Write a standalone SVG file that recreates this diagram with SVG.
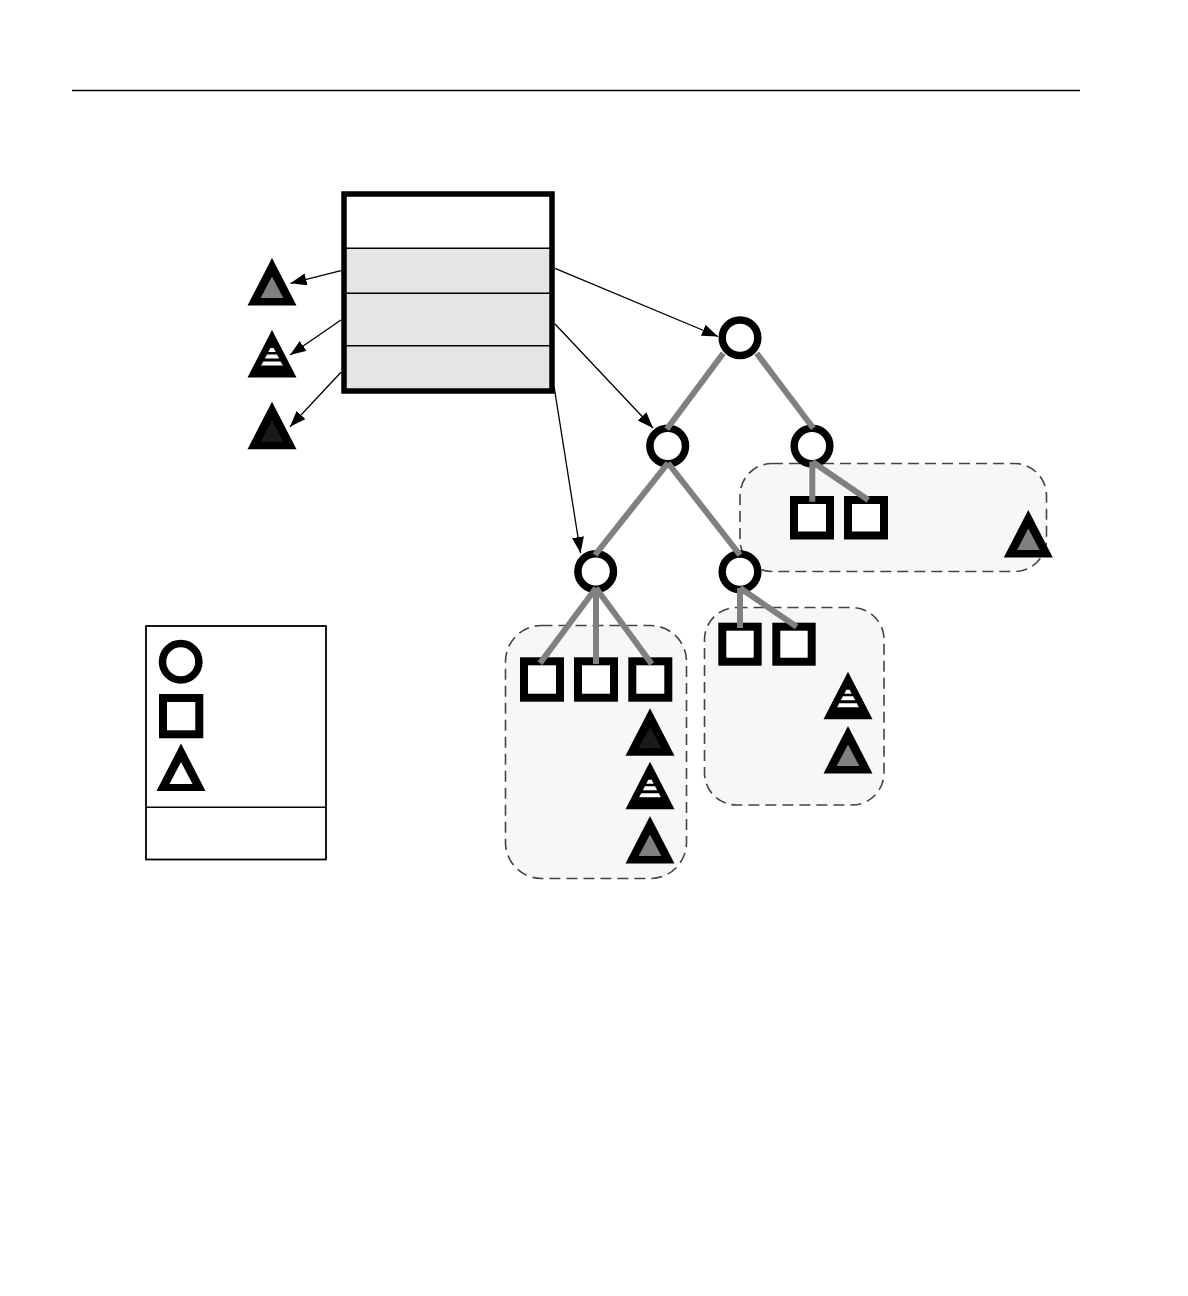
<svg xmlns="http://www.w3.org/2000/svg" xmlns:xlink="http://www.w3.org/1999/xlink" width="1188" height="1296" viewBox="0 0 1188 1296">
<style>
.ptr{stroke:#000;stroke-width:1.3;fill:none}
.edge{stroke:#808080;stroke-width:6;fill:none}
.node{fill:#fff;stroke:#000;stroke-width:7.5}
.leaf{fill:#fff;stroke:#000;stroke-width:8}
.grp{fill:#f7f7f7;stroke:#444;stroke-width:1.6;stroke-dasharray:11 6}
</style>
<defs>
<marker id="ah" markerUnits="userSpaceOnUse" markerWidth="18" markerHeight="14" refX="16" refY="6" orient="auto">
<path d="M0,0 L16,6 L0,12 z" fill="#000"/>
</marker>
<g id="triGray"><polygon points="0,0 24.5,47.5 -24.5,47.5" fill="#000"/><polygon points="0,18.5 11.3,40 -11.3,40" fill="#808080"/></g>
<g id="triDark"><polygon points="0,0 24.5,47.5 -24.5,47.5" fill="#000"/><polygon points="0,18.5 11.3,40 -11.3,40" fill="#1a1a1a"/></g>
<g id="triWhite"><polygon points="0,0 24.5,47.5 -24.5,47.5" fill="#000"/><polygon points="0,18.5 11.5,40.5 -11.5,40.5" fill="#fff"/></g>
<g id="triStripe"><polygon points="0,0 24.5,47.5 -24.5,47.5" fill="#000"/>
<polygon points="-1.6,18 1.6,18 3.7,22 -3.7,22" fill="#fff"/>
<polygon points="-5,24.5 5,24.5 7.2,28.5 -7.2,28.5" fill="#fff"/>
<polygon points="-8.7,31.5 8.7,31.5 10.9,35.5 -10.9,35.5" fill="#fff"/></g>
</defs>
<rect width="1188" height="1296" fill="#fff"/>
<line x1="72" y1="90.5" x2="1080" y2="90.5" stroke="#000" stroke-width="1.3"/>

<g id="groups">
<rect id="group-right" class="grp" x="740" y="463.5" width="306.5" height="108" rx="32"/>
<rect id="group-left" class="grp" x="505.5" y="625.5" width="181" height="253" rx="36"/>
<rect id="group-mid" class="grp" x="704.5" y="607.5" width="179.5" height="197.5" rx="32"/>
</g>

<g id="table">
<rect x="344" y="194" width="208" height="197" fill="#e5e5e5"/>
<rect x="344" y="194" width="208" height="54" fill="#fff"/>
<line x1="344" y1="248.3" x2="552" y2="248.3" stroke="#000" stroke-width="1.5"/>
<line x1="344" y1="293.3" x2="552" y2="293.3" stroke="#000" stroke-width="1.5"/>
<line x1="344" y1="345.7" x2="552" y2="345.7" stroke="#000" stroke-width="1.5"/>
<rect x="344" y="194" width="208" height="197" fill="none" stroke="#000" stroke-width="5.5"/>
</g>

<g id="connectors">
<line class="ptr" x1="341" y1="270.7" x2="290.5" y2="283.3" marker-end="url(#ah)"/>
<line class="ptr" x1="341" y1="320" x2="290" y2="355" marker-end="url(#ah)"/>
<line class="ptr" x1="341" y1="372.3" x2="290" y2="426.7" marker-end="url(#ah)"/>
<line class="ptr" x1="555" y1="268.3" x2="718" y2="336.5" marker-end="url(#ah)"/>
<line class="ptr" x1="555" y1="324" x2="653" y2="428" marker-end="url(#ah)"/>
<line class="ptr" x1="554" y1="386" x2="580.5" y2="553" marker-end="url(#ah)"/>
</g>

<g id="ptr-targets">
<use xlink:href="#triGray" x="272" y="258"/>
<use xlink:href="#triStripe" x="272" y="330"/>
<use xlink:href="#triDark" x="272" y="401.7"/>
</g>

<g id="tree-nodes">
<circle id="n-root" class="node" cx="740" cy="337.7" r="17.8"/>
<circle id="n-l" class="node" cx="667.7" cy="446" r="17.8"/>
<circle id="n-r" class="node" cx="812" cy="446" r="17.8"/>
<circle id="n-ll" class="node" cx="595.7" cy="571.5" r="17.8"/>
<circle id="n-lr" class="node" cx="740" cy="571.7" r="17.8"/>
</g>

<g id="leaves">
<rect class="leaf" x="794" y="500" width="36" height="35.5"/>
<rect class="leaf" x="848" y="500" width="36" height="35.5"/>
<rect class="leaf" x="524" y="661.3" width="36" height="36.4"/>
<rect class="leaf" x="578" y="661.3" width="36" height="36.4"/>
<rect class="leaf" x="632.3" y="661.3" width="36" height="36.4"/>
<rect class="leaf" x="722.3" y="626.7" width="35.4" height="35"/>
<rect class="leaf" x="776.3" y="626.7" width="35.4" height="35"/>
</g>

<g id="tree-edges">
<line class="edge" x1="723.3" y1="353.3" x2="666.7" y2="429.3"/>
<line class="edge" x1="756.7" y1="353.3" x2="813.3" y2="428.3"/>
<line class="edge" x1="668" y1="463" x2="595" y2="555"/>
<line class="edge" x1="668" y1="463" x2="740" y2="555"/>
<line class="edge" x1="812.3" y1="461.7" x2="812.3" y2="501.7"/>
<line class="edge" x1="812.3" y1="461.7" x2="868.3" y2="500"/>
<line class="edge" x1="596" y1="588" x2="540" y2="663.3"/>
<line class="edge" x1="596" y1="588" x2="596" y2="664"/>
<line class="edge" x1="596" y1="588" x2="651.7" y2="664"/>
<line class="edge" x1="740" y1="588" x2="740" y2="628"/>
<line class="edge" x1="740" y1="588" x2="796.7" y2="626.7"/>
</g>

<g id="group-tris">
<use xlink:href="#triGray" x="1028.3" y="510"/>
<use xlink:href="#triDark" x="650" y="708.3"/>
<use xlink:href="#triStripe" x="650" y="761.7"/>
<use xlink:href="#triGray" x="650" y="816"/>
<use xlink:href="#triStripe" x="848" y="671.7"/>
<use xlink:href="#triGray" x="848" y="726"/>
</g>

<g id="legend">
<rect x="146" y="626" width="180" height="233.5" fill="#fff" stroke="#000" stroke-width="1.8"/>
<line x1="146" y1="807.3" x2="326" y2="807.3" stroke="#000" stroke-width="1.5"/>
<circle class="node" cx="180.7" cy="661.7" r="18.2" stroke-width="8"/>
<rect class="leaf" x="163" y="698" width="36.3" height="36.3"/>
<use xlink:href="#triWhite" x="181" y="743.5"/>
</g>
</svg>
